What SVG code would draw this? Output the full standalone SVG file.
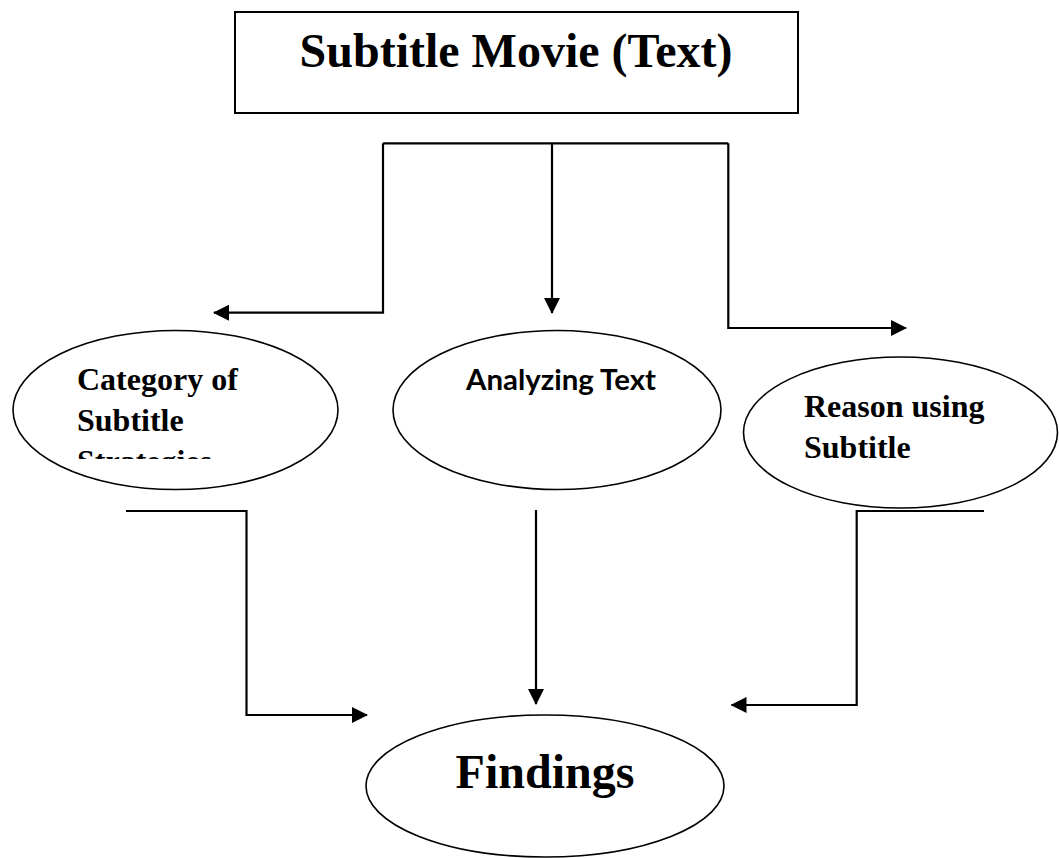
<svg xmlns="http://www.w3.org/2000/svg" width="1059" height="858" viewBox="0 0 1059 858">
  <style>
    .box { fill: #fff; stroke: #000; stroke-width: 2; }
    .oval { fill: #fff; stroke: #000; stroke-width: 1.6; }
    .serif { font-family: "Liberation Serif", "Times New Roman", serif; font-weight: bold; fill: #000; }
    .sans { font-family: Lato, "Open Sans", "Liberation Sans", sans-serif; font-weight: bold; fill: #000; }
    .wire { fill: none; stroke: #000; stroke-width: 2.2; }
  </style>
  <defs>
    <marker id="arrow" viewBox="0 0 16 16" refX="15" refY="8" markerWidth="16" markerHeight="16" markerUnits="userSpaceOnUse" orient="auto">
      <path d="M0,0 L16,8 L0,16 Z" fill="#000"/>
    </marker>
    <clipPath id="catClip">
      <rect x="0" y="330" width="400" height="129"/>
    </clipPath>
  </defs>
  <rect width="1059" height="858" fill="#fff"/>

  <g id="subtitle-movie">
    <rect class="box" x="235" y="12" width="563" height="101"/>
    <text class="serif" x="516" y="67" font-size="48" text-anchor="middle">Subtitle Movie (Text)</text>
  </g>

  <g id="category">
    <ellipse class="oval" cx="175.5" cy="410" rx="162.5" ry="79.5"/>
    <g clip-path="url(#catClip)">
      <text class="serif" font-size="32">
        <tspan x="77" y="390">Category of</tspan>
        <tspan x="77" y="431">Subtitle</tspan>
        <tspan x="77" y="472">Strategies</tspan>
      </text>
    </g>
  </g>

  <g id="analyzing">
    <ellipse class="oval" cx="557" cy="410" rx="164" ry="79.5"/>
    <text class="sans" x="466" y="390" font-size="29" textLength="190" lengthAdjust="spacingAndGlyphs">Analyzing Text</text>
  </g>

  <g id="reason">
    <ellipse class="oval" cx="900.5" cy="432.5" rx="157" ry="75.5"/>
    <text class="serif" font-size="32">
      <tspan x="804" y="417">Reason using</tspan>
      <tspan x="804" y="458">Subtitle</tspan>
    </text>
  </g>

  <g id="findings">
    <ellipse class="oval" cx="545" cy="786" rx="179" ry="71"/>
    <text class="serif" x="545" y="788" font-size="48" text-anchor="middle">Findings</text>
  </g>

  <g id="connectors">
    <path class="wire" d="M383,143.3 H728.3"/>
    <path class="wire" d="M383,143.3 V312.7 H214" marker-end="url(#arrow)"/>
    <path class="wire" d="M552,143.3 V313" marker-end="url(#arrow)"/>
    <path class="wire" d="M728.3,143.3 V328 H906" marker-end="url(#arrow)"/>
    <path class="wire" d="M126,511 H246.5 V715 H367" marker-end="url(#arrow)"/>
    <path class="wire" d="M536,510 V704" marker-end="url(#arrow)"/>
    <path class="wire" d="M984,511 H856.7 V705 H731.5" marker-end="url(#arrow)"/>
  </g>
</svg>
